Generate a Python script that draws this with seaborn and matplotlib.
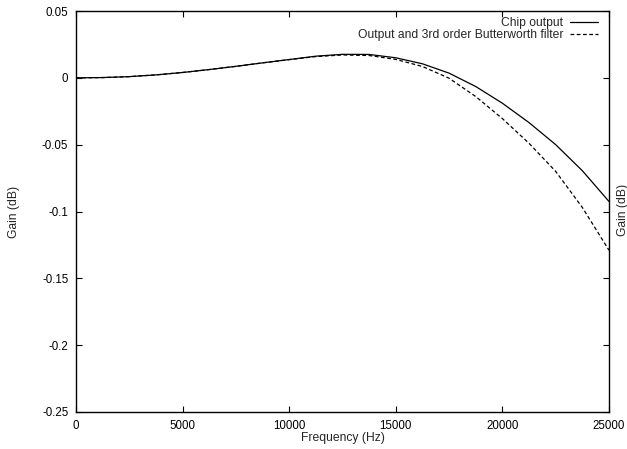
"""
Chip output gain vs frequency, with and without a 3rd order Butterworth filter
"""

import matplotlib
matplotlib.use("Agg")
import matplotlib.pyplot as plt
import numpy as np
import pandas as pd
import seaborn as sns

# Values
freq_hz = [0, 1250, 2500, 3750, 5000, 6250, 7500, 8750, 10000, 11250, 12500,
           13750, 15000, 16250, 17500, 18750, 20000, 21250, 22500, 23750, 25000]
chip_gain = [0.0, 0.0002, 0.0009, 0.0022, 0.0040, 0.0062, 0.0086, 0.0112, 0.0137,
             0.0162, 0.0176, 0.0175, 0.0150, 0.0105, 0.0035, -0.0065, -0.0190,
             -0.0335, -0.0500, -0.0695, -0.0925]
butter_gain = [0.0, 0.0002, 0.0009, 0.0022, 0.0040, 0.0062, 0.0086, 0.0112, 0.0136,
               0.0159, 0.0171, 0.0167, 0.0138, 0.0085, -0.0003, -0.0140, -0.0305,
               -0.0490, -0.0700, -0.0970, -0.1290]
series_names = ["Chip output", "Output and 3rd order Butterworth filter"]
yticks = [0.05, 0, -0.05, -0.1, -0.15, -0.2, -0.25]
ytick_labels = ["0.05", "0", "-0.05", "-0.1", "-0.15", "-0.2", "-0.25"]
xticks = [0, 5000, 10000, 15000, 20000, 25000]

df = pd.DataFrame({
    "Frequency": freq_hz * 2,
    "Gain": chip_gain + butter_gain,
    "Series": [series_names[0]] * len(freq_hz) + [series_names[1]] * len(freq_hz),
})

sns.set_style("ticks")
plt.rcParams["font.family"] = ["Liberation Sans", "DejaVu Sans"]
plt.rcParams["axes.unicode_minus"] = False

fig = plt.figure(figsize=(6.27, 4.49), dpi=100)
ax = fig.add_axes([76 / 627, 1 - 412 / 449, 533 / 627, 401 / 449])

sns.lineplot(
    data=df, x="Frequency", y="Gain", style="Series",
    style_order=series_names,
    dashes={series_names[0]: "", series_names[1]: (3, 2)},
    color="black", linewidth=0.9, ax=ax, legend=True,
)

ax.set_xlim(0, 25000)
ax.set_ylim(-0.25, 0.05)
ax.set_xticks(xticks)
ax.set_xticklabels([str(t) for t in xticks])
ax.set_yticks(yticks)
ax.set_yticklabels(ytick_labels)
ax.tick_params(direction="in", length=4.5, width=0.8, top=True, right=True,
               labelsize=8.3, colors="black", pad=5.5)
for sp in ax.spines.values():
    sp.set_linewidth(1.0)
    sp.set_color("black")

ax.set_xlabel("Frequency (Hz)", fontsize=8.7)
ax.set_ylabel("Gain (dB)", fontsize=8.7)
ax.xaxis.set_label_coords(0.5, -0.05)
ax.yaxis.set_label_coords(-0.105, 0.5)

# second y label, partly cut off at the right edge as in the reference
fig.text(617 / 627, 1 - 210 / 449, "Gain (dB)", rotation=90, ha="left",
         va="center", fontsize=8.7)

handles, labels = ax.get_legend_handles_labels()
ax.legend(handles, labels, loc="upper right", frameon=False, markerfirst=False,
          fontsize=8.7, handlelength=2.3, handletextpad=0.6, labelspacing=0.05,
          borderaxespad=0.0, bbox_to_anchor=(1 - 6 / 533, 1 - 1 / 401))

fig.savefig("out.png", dpi=100)
